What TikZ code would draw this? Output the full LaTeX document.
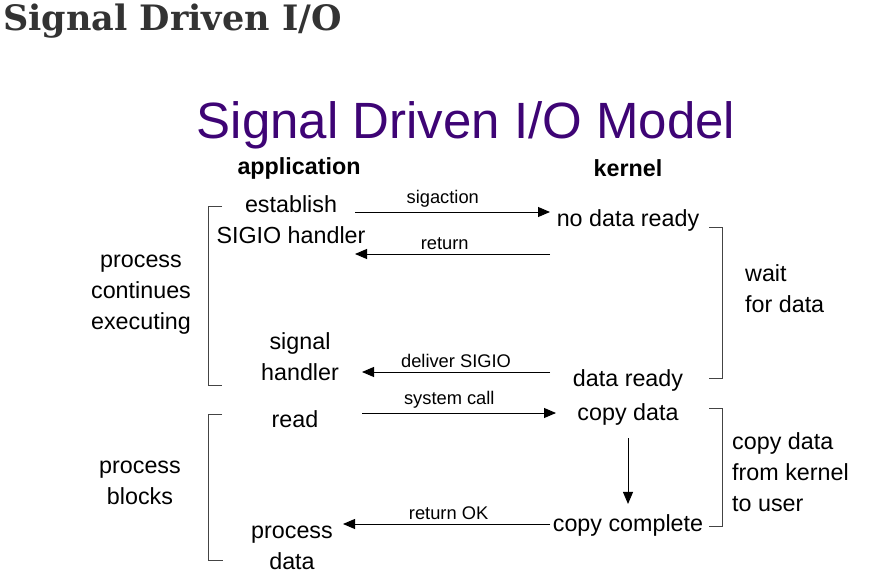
\documentclass[tikz,border=0pt]{standalone}
\usepackage{fontspec}
\setmainfont{Liberation Sans}
\newfontfamily\headfont{DejaVu Serif}
\usetikzlibrary{arrows.meta}
\definecolor{headgray}{HTML}{333333}
\definecolor{titlepurple}{HTML}{3E0475}
\definecolor{brk}{HTML}{444444}
\tikzset{
  txt/.style={inner sep=0pt, align=center, font=\fontsize{23.3}{31}\selectfont},
  ltxt/.style={inner sep=0pt, align=left, font=\fontsize{23.3}{31}\selectfont},
  lbl/.style={inner sep=0pt, font=\fontsize{18.3}{20}\selectfont, above=4pt},
  hdr/.style={inner sep=0pt, font=\bfseries\fontsize{23.3}{26}\selectfont},
  arr/.style={draw=black, line width=0.9pt, -{Triangle[length=12pt,width=10pt]}},
  brack/.style={draw=brk, line width=0.8pt}
}
\begin{document}
\begin{tikzpicture}[x=1pt,y=-1pt]
\useasboundingbox (0,0) rectangle (882,573);
% headings
\node[anchor=west, inner sep=0pt, text=headgray, font=\headfont\bfseries\fontsize{35}{38}\selectfont] (head) at (3,21) {Signal Driven I/O};
\node[inner sep=0pt, text=titlepurple, font=\fontsize{51}{56}\selectfont] (title) at (466,125) {Signal Driven I/O Model};
\node[hdr] (app) at (299,168) {application};
\node[hdr] (kern) at (628,168) {kernel};
% application side
\node[txt] (est) at (291,219.5) {establish\\SIGIO handler};
\node[txt] (sig) at (300,356.5) {signal\\handler};
\node[txt] (read) at (295,419) {read};
\node[txt] (proc) at (292,548) {process\\data};
% kernel side
\node[txt] (nodata) at (628,220) {no data ready};
\node[txt] (dready) at (628,380) {data ready};
\node[txt] (cdata) at (628,414) {copy data};
\node[txt] (ccomp) at (628,525) {copy complete};
% left notes
\node[txt] (cont) at (141,295) {process\\continues\\executing};
\node[txt] (blk) at (140,483) {process\\blocks};
% right notes
\node[ltxt, anchor=west] (wait) at (745,288.5) {wait\\for data};
\node[ltxt, anchor=west] (cpy) at (732,472) {copy data\\from kernel\\to user};
% arrows
\coordinate (a1s) at (355,212); \coordinate (a1e) at (550,212);
\draw[arr] (a1s) -- node[lbl, pos=0.45]{sigaction} (a1e);
\coordinate (a2s) at (550,254); \coordinate (a2e) at (355,254);
\draw[arr] (a2s) -- node[lbl, pos=0.54]{return} (a2e);
\coordinate (a3s) at (550,372); \coordinate (a3e) at (362,372);
\draw[arr] (a3s) -- node[lbl, pos=0.5]{deliver SIGIO} (a3e);
\coordinate (a4s) at (362,413); \coordinate (a4e) at (556,413);
\draw[arr] (a4s) -- node[lbl, pos=0.45]{system call} (a4e);
\draw[arr] ([yshift=-13pt]cdata.south) -- ([yshift=10pt]ccomp.north);
\coordinate (a6s) at (550,524); \coordinate (a6e) at (343,524);
\draw[arr] (a6s) -- node[lbl, pos=0.49]{return OK} (a6e);
% brackets
\draw[brack] (222,206) -- (208,206) -- (208,385) -- (222,385);
\draw[brack] (222,414) -- (208,414) -- (208,560) -- (223,560);
\draw[brack] (709,227) -- (722,227) -- (722,378) -- (709,378);
\draw[brack] (709,408) -- (722,408) -- (722,526) -- (709,526);
\end{tikzpicture}
\end{document}
